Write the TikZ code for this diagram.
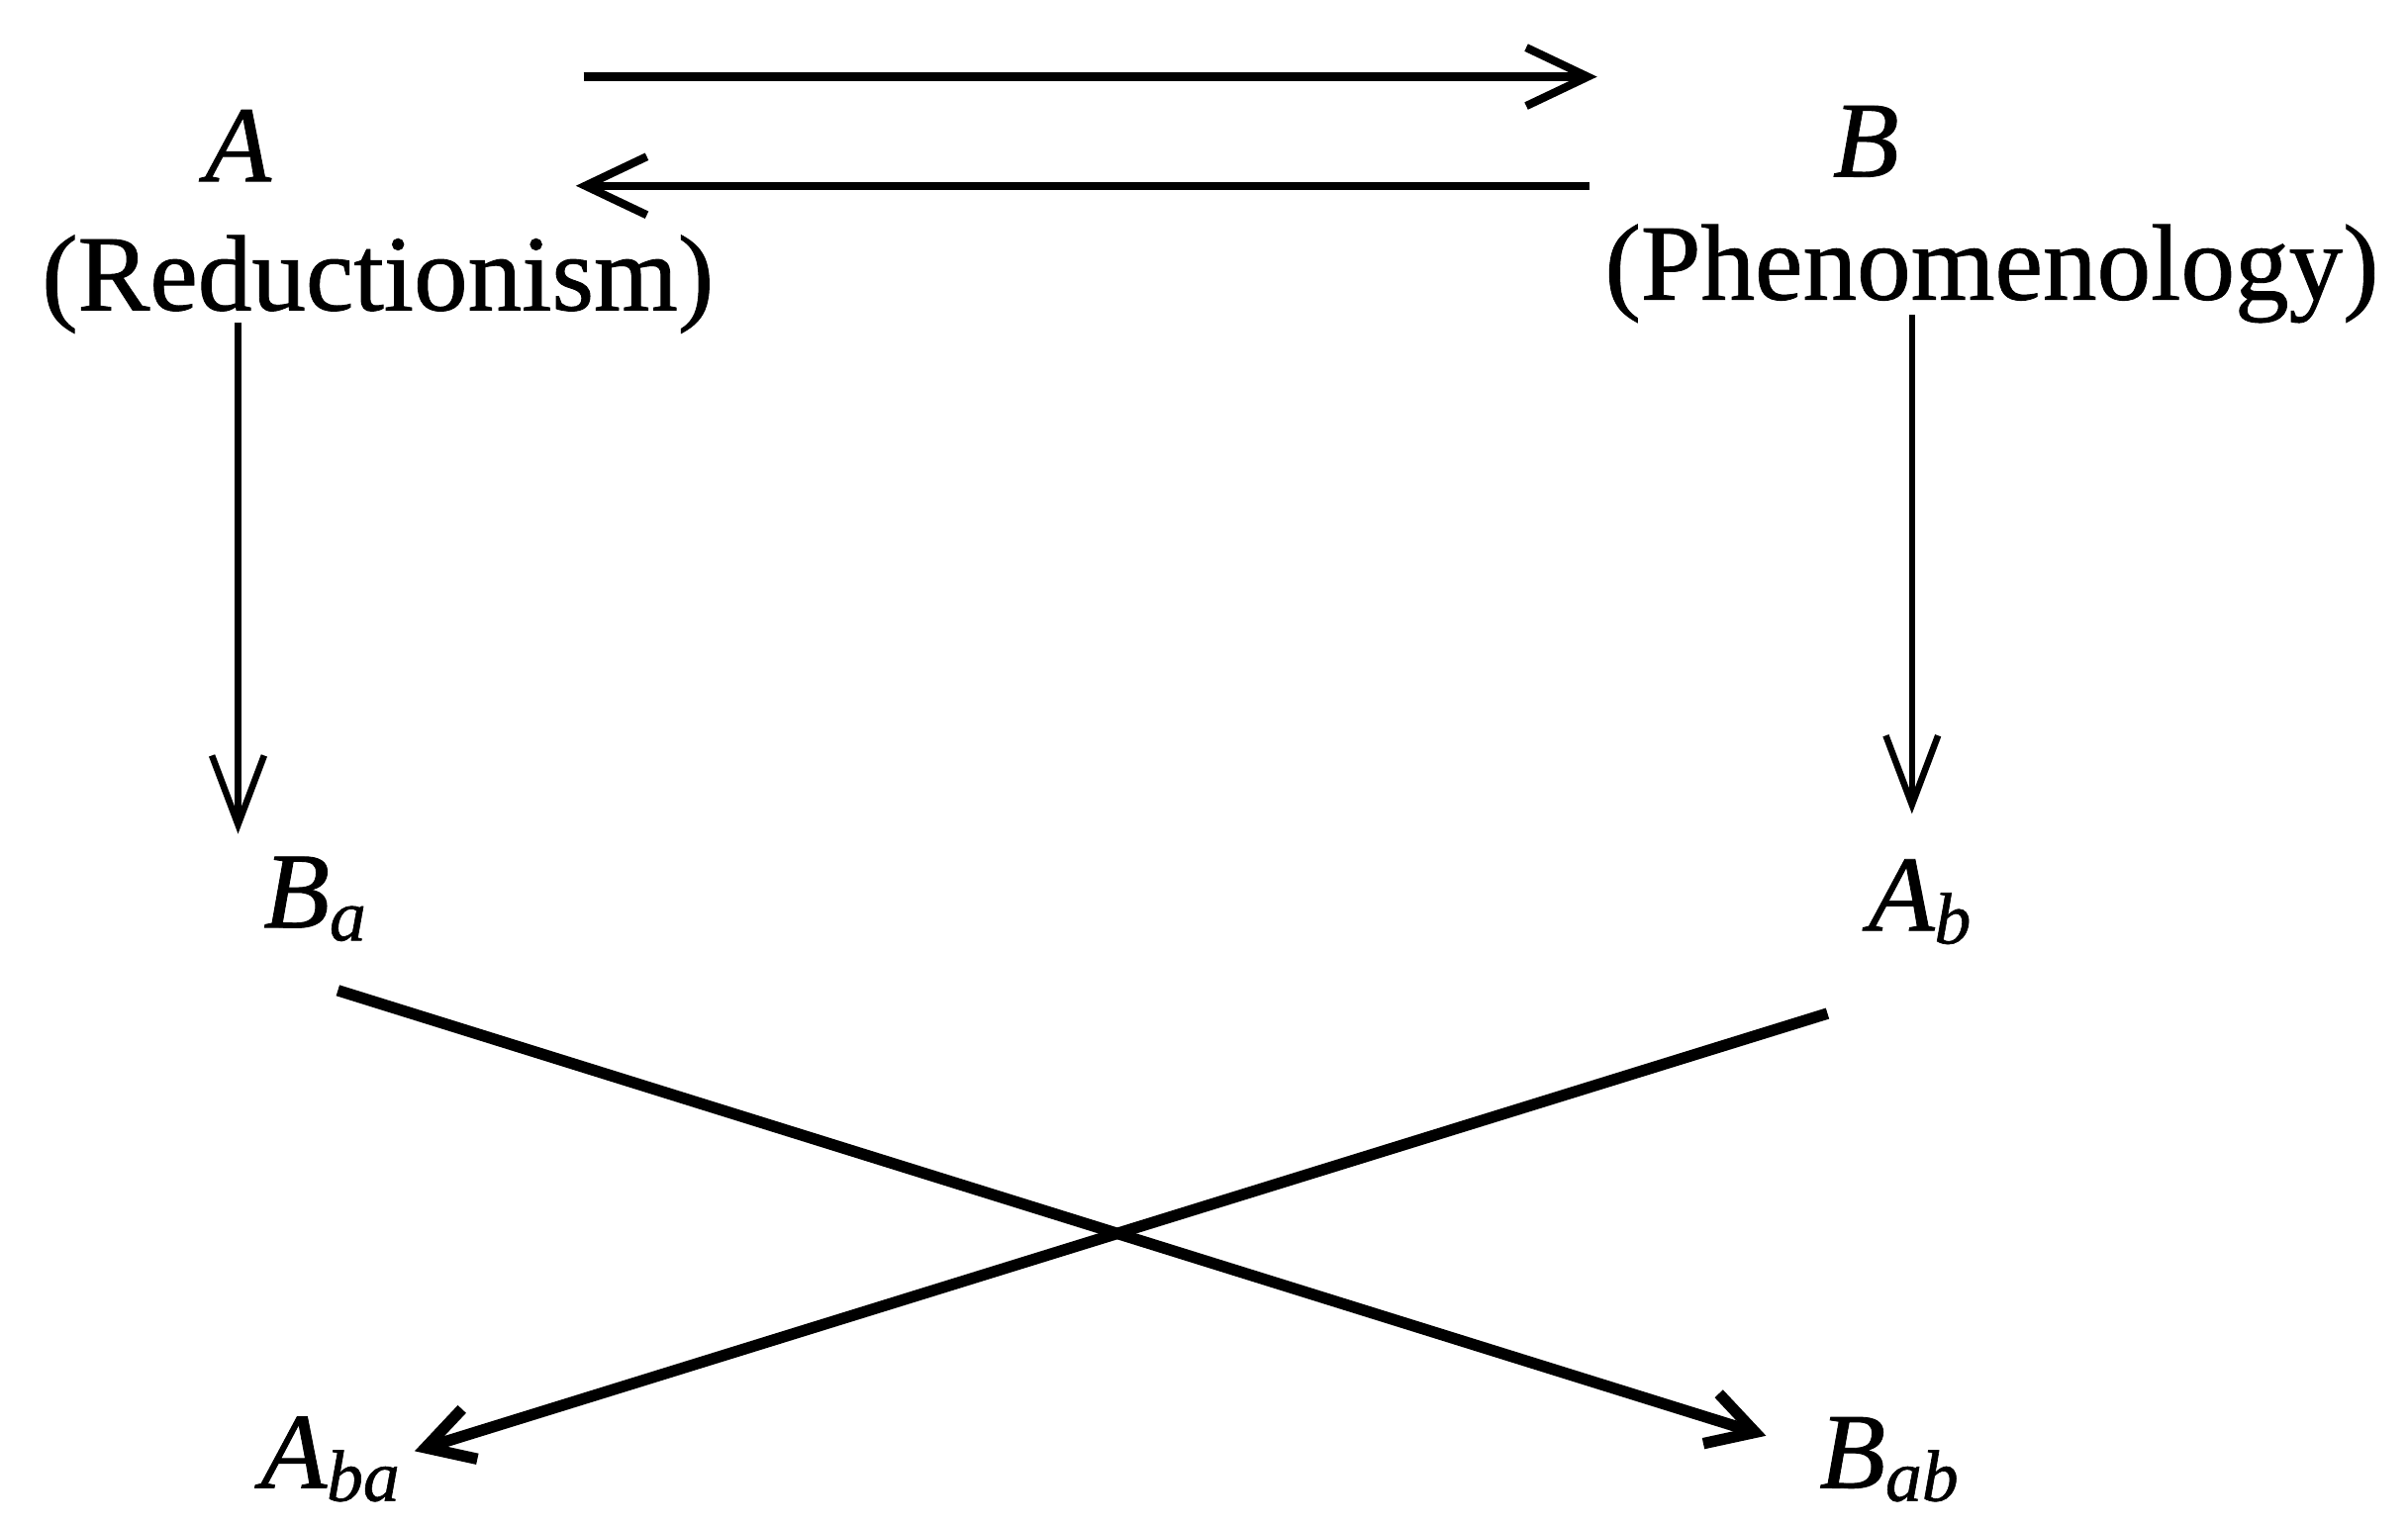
\documentclass[tikz,border=0pt]{standalone}
\usepackage{fontspec}
\setmainfont[FakeBold=0.8]{Liberation Serif}
\usetikzlibrary{arrows.meta,calc}
\newcommand\sbx[1]{\raisebox{-0.12em}{\fontsize{13.5}{13.5}\selectfont\itshape #1}}
\begin{document}
\begin{tikzpicture}[x=0.01cm,y=-0.01cm,
  lbl/.style={anchor=base, inner sep=0pt, font=\fontsize{20}{24}\selectfont},
  arrT/.style={line width=1.5pt, -{Straight Barb[length=4mm,width=3.8mm]}},
  arrV/.style={line width=1.2pt, -{Straight Barb[length=4.5mm,width=3.4mm]}},
  arrX/.style={line width=2.1pt, -{Straight Barb[length=3mm,width=3.4mm]}}]
\useasboundingbox (0,0) rectangle (1568,994);
\node[lbl] (A) at (155,118) {\itshape A};
\node[lbl] (R) at (246,202) {(Reductionism)};
\node[lbl] (B) at (1215,115) {\itshape B};
\node[lbl] (P) at (1297,195) {(Phenomenology)};
\node[lbl] (Ba) at (205,604) {\itshape B\sbx{a}};
\node[lbl] (Ab) at (1250,606) {\itshape A\sbx{b}};
\node[lbl] (Aba) at (215,969) {\itshape A\sbx{ba}};
\node[lbl] (Bab) at (1230,969) {\itshape B\sbx{ab}};
\draw[arrT] ($(A.base)+(225,-68)$) -- ($(B.base)+(-175,-65)$);
\draw[arrT] ($(B.base)+(-180,6)$) -- ($(A.base)+(220,3)$);
\draw[arrV] ($(A.base)+(0,92)$) -- ($(A.base)+(0,425)$);
\draw[arrV] ($(Ab.base)+(-5,-401)$) -- ($(Ab.base)+(-5,-76)$);
\draw[arrX] ($(Ba.base)+(15,41)$) -- ($(Bab.base)+(-80,-34)$);
\draw[arrX] ($(Ab.base)+(-60,54)$) -- ($(Aba.base)+(55,-24)$);
\end{tikzpicture}
\end{document}
